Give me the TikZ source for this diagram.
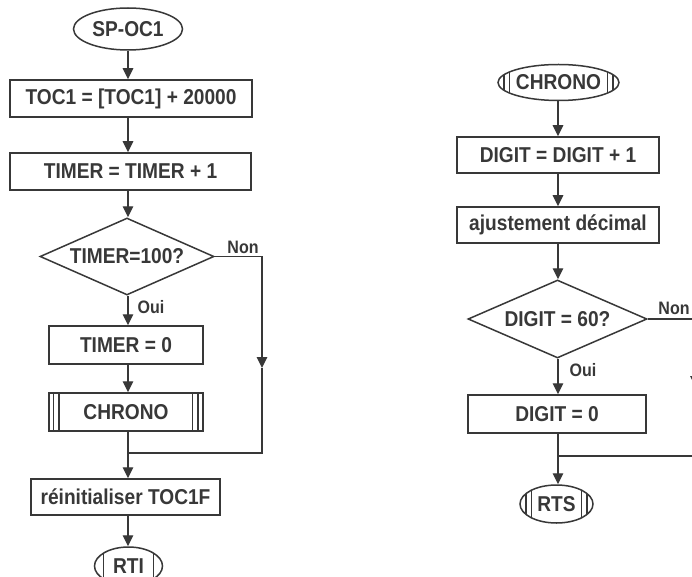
\documentclass[tikz,border=0pt]{standalone}
\usepackage{fontspec}
\setmainfont[FakeStretch=0.89]{Liberation Sans}
\usetikzlibrary{shapes.geometric,arrows.meta}
\definecolor{ink}{HTML}{383838}
\begin{document}
\begin{tikzpicture}[x=1pt,y=-1pt,
  every node/.style={text=ink, inner sep=0pt},
  mainfont/.style={font=\fontsize{21.5}{24}\selectfont\bfseries},
  labfont/.style={font=\fontsize{18}{20}\selectfont\bfseries},
  box/.style={draw=ink, line width=1.5pt, rectangle, mainfont},
  dec/.style={draw=ink, line width=1.5pt, diamond, aspect=2.2, mainfont},
  term/.style={draw=ink, line width=1.5pt, ellipse, mainfont},
  proc/.style={box, path picture={
      \draw[ink, line width=1.2pt]
        ([xshift=4.5pt]path picture bounding box.north west) -- ([xshift=4.5pt]path picture bounding box.south west)
        ([xshift=10pt]path picture bounding box.north west) -- ([xshift=10pt]path picture bounding box.south west)
        ([xshift=-5pt]path picture bounding box.north east) -- ([xshift=-5pt]path picture bounding box.south east)
        ([xshift=-10.5pt]path picture bounding box.north east) -- ([xshift=-10.5pt]path picture bounding box.south east);}},
  termtwo/.style={term, path picture={
      \draw[ink, line width=1.2pt]
        ([xshift=6pt]path picture bounding box.north west) -- ([xshift=6pt]path picture bounding box.south west)
        ([xshift=11.5pt]path picture bounding box.north west) -- ([xshift=11.5pt]path picture bounding box.south west)
        ([xshift=-6pt]path picture bounding box.north east) -- ([xshift=-6pt]path picture bounding box.south east)
        ([xshift=-11.5pt]path picture bounding box.north east) -- ([xshift=-11.5pt]path picture bounding box.south east);}},
  termone/.style={term, path picture={
      \draw[ink, line width=1.2pt]
        ([xshift=9pt]path picture bounding box.north west) -- ([xshift=9pt]path picture bounding box.south west)
        ([xshift=-9pt]path picture bounding box.north east) -- ([xshift=-9pt]path picture bounding box.south east);}},
  lab/.style={labfont},
  conn/.style={draw=ink, line width=1.3pt},
  arr/.style={conn, -{Triangle[width=10.5pt,length=11pt]}}
]
\useasboundingbox (0,0) rectangle (692,577);
\fill[white] (0,0) rectangle (692,577);

\coordinate (L) at (128,0);
\coordinate (R) at (558,0);

% left flowchart
\node[term, minimum width=109pt, minimum height=42pt] (spoc) at (128,29) {SP-OC1};
\node[box, minimum width=242pt, minimum height=37pt] (toc) at (131,98.5) {TOC1 = [TOC1] + 20000};
\node[box, minimum width=241pt, minimum height=37pt] (timer) at (130.5,171.5) {TIMER = TIMER + 1};
\node[dec, minimum width=174pt, minimum height=77pt] (d1) at (127,256.5) {TIMER=100?};
\node[box, minimum width=154pt, minimum height=38pt] (tz) at (126,345) {TIMER = 0};
\node[proc, minimum width=154pt, minimum height=38pt] (chr) at (126,412) {CHRONO};
\node[box, minimum width=189pt, minimum height=36pt] (reinit) at (125.5,497) {réinitialiser TOC1F};
\node[termone, minimum width=68pt, minimum height=38pt] (rti) at (128.5,566) {RTI};
\node[lab] (non1) at (243,247) {Non};
\node[lab] (oui1) at (151,307) {Oui};

\coordinate (m1) at (128,453);
\coordinate (a1) at (262,368);

\draw[arr] (spoc) -- (spoc |- toc.north);
\draw[arr] (toc.south -| L) -- (timer.north -| L);
\draw[arr] (timer.south -| L) -- (d1.north -| L);
\draw[arr] (d1.south -| L) -- (tz.north -| L);
\draw[arr] (tz.south -| L) -- (chr.north -| L);
\draw[conn] (chr.south -| L) -- (m1);
\draw[arr] (m1) -- (reinit.north -| L);
\draw[arr] (reinit.south -| L) -- (rti.north -| L);
\draw[arr] (d1.east) -| (a1);
\draw[conn] (a1) |- (m1);

% right flowchart
\node[termtwo, minimum width=121pt, minimum height=36pt] (chrono) at (558.5,82.5) {CHRONO};
\node[box, minimum width=202pt, minimum height=36pt] (dg1) at (558,155) {DIGIT = DIGIT + 1};
\node[box, minimum width=202pt, minimum height=36pt] (adj) at (558,225) {ajustement décimal};
\node[dec, minimum width=179pt, minimum height=78pt] (d2) at (557.5,319) {DIGIT = 60?};
\node[box, minimum width=178pt, minimum height=38pt] (dg0) at (557,414) {DIGIT = 0};
\node[termtwo, minimum width=73pt, minimum height=38pt] (rts) at (556.5,504) {RTS};
\node[lab] (non2) at (674,308) {Non};
\node[lab] (oui2) at (583,370) {Oui};

\coordinate (m2) at (558,456);
\coordinate (a2) at (695.5,387);

\draw[arr] (chrono.south -| R) -- (dg1.north -| R);
\draw[arr] (dg1.south -| R) -- (adj.north -| R);
\draw[arr] (adj.south -| R) -- (d2.north -| R);
\draw[arr] (d2.south -| R) -- (dg0.north -| R);
\draw[conn] (dg0.south -| R) -- (m2);
\draw[arr] (m2) -- (rts.north -| R);
\draw[arr] (d2.east) -| (a2);
\draw[conn] (a2) |- (m2);
\end{tikzpicture}
\end{document}
